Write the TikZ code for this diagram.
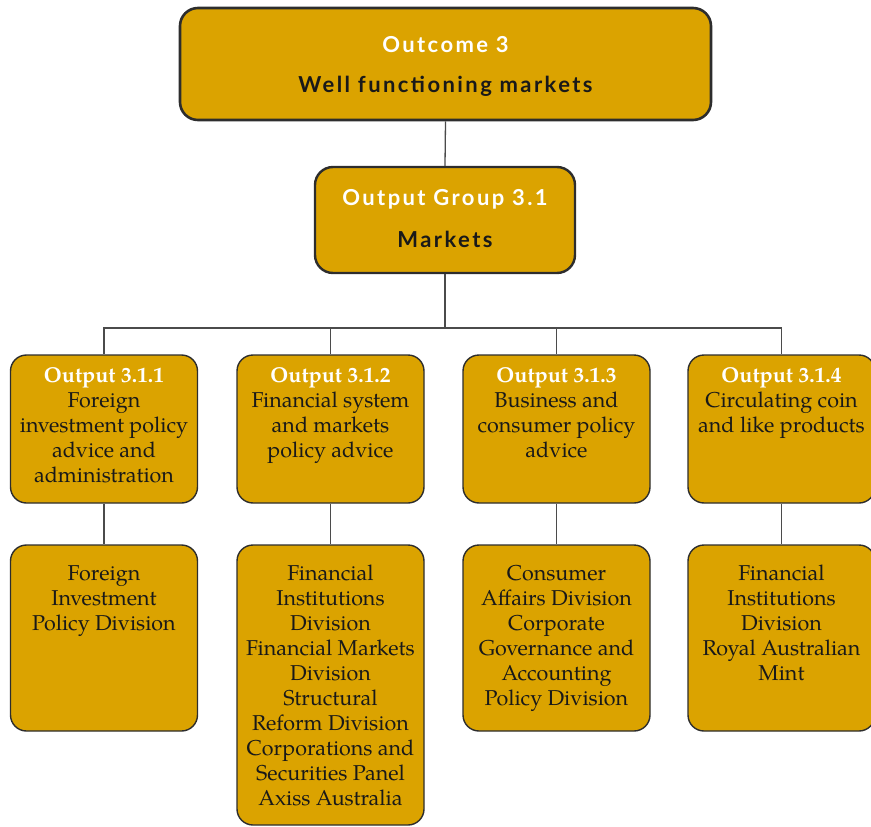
\documentclass[tikz,border=0pt]{standalone}
\usepackage{fontspec}
\setmainfont{TeX Gyre Pagella}
\newfontfamily\gillfont[LetterSpace=11]{Lato}
\definecolor{gold}{RGB}{219,163,0}
\definecolor{edgec}{RGB}{45,45,45}
\definecolor{wirec}{RGB}{75,75,75}
\definecolor{ink}{RGB}{25,25,25}
\newcommand{\boxtext}[4]{\parbox[c][#2][t]{#1}{\centering\vspace*{#3}#4\par}}
\newcommand{\hd}[1]{\textcolor{white}{\bfseries #1}}
\tikzset{
  box/.style={draw=edgec, fill=gold, rounded corners=16pt, line width=1.4pt, inner sep=0pt, text=ink, font=\fontsize{21.5}{25}\selectfont},
  topbox/.style={box, line width=2.6pt, rounded corners=18pt, font=\gillfont\bfseries\fontsize{22}{40}\selectfont},
  grpbox/.style={box, line width=2.4pt, rounded corners=18pt, font=\gillfont\bfseries\fontsize{22}{42}\selectfont},
  wire/.style={draw=wirec, line width=1.3pt}
}
\begin{document}
\begin{tikzpicture}[x=1pt,y=-1pt]
\useasboundingbox (0,0) rectangle (871,827);
\node[topbox] (oc) at (445.5,64) {\boxtext{531pt}{112pt}{16pt}{\strut\textcolor{white}{Outcome 3}\\Well functioning markets}};
\node[grpbox] (grp) at (445,220) {\boxtext{260pt}{106pt}{8.6pt}{\strut\textcolor{white}{Output Group 3.1}\\Markets}};
\node[box] (a1) at (104,429) {\boxtext{187pt}{148pt}{9.5pt}{\strut\hd{Output 3.1.1}\\Foreign\\investment policy\\advice and\\administration}};
\node[box] (b1) at (330.5,429) {\boxtext{187pt}{148pt}{9.5pt}{\strut\hd{Output 3.1.2}\\Financial system\\and markets\\policy advice}};
\node[box] (c1) at (556.5,429) {\boxtext{187pt}{148pt}{9.5pt}{\strut\hd{Output 3.1.3}\\Business and\\consumer policy\\advice}};
\node[box] (d1) at (781.5,429) {\boxtext{187pt}{148pt}{9.5pt}{\strut\hd{Output 3.1.4}\\Circulating coin\\and like products}};
\node[box] (a2) at (104,638) {\boxtext{187pt}{186pt}{17.5pt}{\strut Foreign\\Investment\\Policy Division}};
\node[box] (b2) at (330.5,685) {\boxtext{187pt}{280pt}{17.5pt}{\strut Financial\\Institutions\\Division\\Financial Markets\\Division\\Structural\\Reform Division\\Corporations and\\Securities Panel\\Axiss Australia}};
\node[box] (c2) at (556.5,638) {\boxtext{187pt}{186pt}{17.5pt}{\strut Consumer\\Affairs Division\\Corporate\\Governance and\\Accounting\\Policy Division}};
\node[box] (d2) at (781.5,638) {\boxtext{187pt}{186pt}{17.5pt}{\strut Financial\\Institutions\\Division\\Royal Australian\\Mint}};
\coordinate (bus) at (445,328);
\draw[wire] (oc.south) -- (grp.north);
\draw[wire] (grp.south) -- (bus);
\draw[wire] (a1.north) |- (bus) -| (d1.north);
\draw[wire] (b1.north) -- (b1.north |- bus);
\draw[wire] (c1.north) -- (c1.north |- bus);
\draw[wire] (a1.south) -- (a2.north);
\draw[wire] (b1.south) -- (b2.north);
\draw[wire] (c1.south) -- (c2.north);
\draw[wire] (d1.south) -- (d2.north);
\end{tikzpicture}
\end{document}
